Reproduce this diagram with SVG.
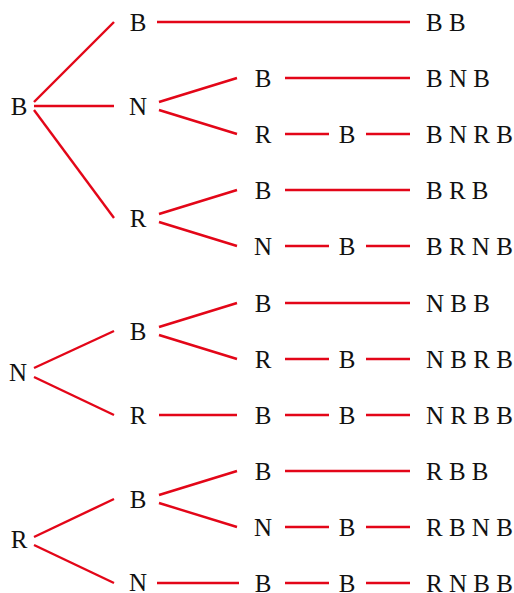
<svg xmlns="http://www.w3.org/2000/svg" width="514" height="593" viewBox="0 0 514 593">
<style>
text{font-family:"Liberation Serif","Times New Roman",serif;font-size:25px;fill:#111}
.n{text-anchor:middle}
.r{text-anchor:start}
#connectors line{stroke:#e30618;stroke-width:2.4;stroke-linecap:butt}
</style>
<rect width="514" height="593" fill="#fff"/>
<g id="connectors">
<line x1="34" y1="102" x2="114" y2="22"/>
<line x1="34" y1="106" x2="114" y2="106"/>
<line x1="34" y1="110" x2="114" y2="218"/>
<line x1="157" y1="22" x2="410" y2="22"/>
<line x1="159" y1="102" x2="237" y2="78"/>
<line x1="159" y1="110" x2="237" y2="134"/>
<line x1="285" y1="78" x2="410" y2="78"/>
<line x1="285" y1="134" x2="329" y2="134"/>
<line x1="366" y1="134" x2="410" y2="134"/>
<line x1="159" y1="214" x2="237" y2="190"/>
<line x1="159" y1="222" x2="237" y2="246"/>
<line x1="285" y1="190" x2="410" y2="190"/>
<line x1="285" y1="246" x2="329" y2="246"/>
<line x1="366" y1="246" x2="410" y2="246"/>
<line x1="34" y1="368" x2="114" y2="331"/>
<line x1="34" y1="377" x2="114" y2="415"/>
<line x1="159" y1="327" x2="237" y2="303"/>
<line x1="159" y1="335" x2="237" y2="359"/>
<line x1="159" y1="415" x2="237" y2="415"/>
<line x1="285" y1="303" x2="410" y2="303"/>
<line x1="285" y1="359" x2="329" y2="359"/>
<line x1="366" y1="359" x2="410" y2="359"/>
<line x1="285" y1="415" x2="329" y2="415"/>
<line x1="366" y1="415" x2="410" y2="415"/>
<line x1="34" y1="537" x2="114" y2="499"/>
<line x1="34" y1="545" x2="114" y2="583"/>
<line x1="159" y1="495" x2="237" y2="471"/>
<line x1="159" y1="503" x2="237" y2="527"/>
<line x1="157" y1="583" x2="239" y2="583"/>
<line x1="285" y1="471" x2="410" y2="471"/>
<line x1="285" y1="527" x2="329" y2="527"/>
<line x1="366" y1="527" x2="410" y2="527"/>
<line x1="285" y1="583" x2="329" y2="583"/>
<line x1="366" y1="583" x2="410" y2="583"/>
</g>
<g id="root-B"><text class="n" x="19" y="115">B</text></g>
<g id="B-B"><text class="n" x="138" y="31">B</text></g>
<g id="B-N"><text class="n" x="138" y="115">N</text></g>
<g id="B-R"><text class="n" x="138" y="227">R</text></g>
<g id="B-N-B"><text class="n" x="263" y="87">B</text></g>
<g id="B-N-R"><text class="n" x="263" y="143">R</text></g>
<g id="B-N-R-B"><text class="n" x="347" y="143">B</text></g>
<g id="B-R-B"><text class="n" x="263" y="199">B</text></g>
<g id="B-R-N"><text class="n" x="263" y="255">N</text></g>
<g id="B-R-N-B"><text class="n" x="347" y="255">B</text></g>
<g id="res-BB"><text class="r" x="426" y="31">B B</text></g>
<g id="res-BNB"><text class="r" x="426" y="87">B N B</text></g>
<g id="res-BNRB"><text class="r" x="426" y="143">B N R B</text></g>
<g id="res-BRB"><text class="r" x="426" y="199">B R B</text></g>
<g id="res-BRNB"><text class="r" x="426" y="255">B R N B</text></g>
<g id="root-N"><text class="n" x="18" y="381">N</text></g>
<g id="N-B"><text class="n" x="138" y="340">B</text></g>
<g id="N-R"><text class="n" x="138" y="424">R</text></g>
<g id="N-B-B"><text class="n" x="263" y="312">B</text></g>
<g id="N-B-R"><text class="n" x="263" y="368">R</text></g>
<g id="N-B-R-B"><text class="n" x="347" y="368">B</text></g>
<g id="N-R-B"><text class="n" x="263" y="424">B</text></g>
<g id="N-R-B-B"><text class="n" x="347" y="424">B</text></g>
<g id="res-NBB"><text class="r" x="426" y="312">N B B</text></g>
<g id="res-NBRB"><text class="r" x="426" y="368">N B R B</text></g>
<g id="res-NRBB"><text class="r" x="426" y="424">N R B B</text></g>
<g id="root-R"><text class="n" x="19" y="548">R</text></g>
<g id="R-B"><text class="n" x="138" y="508">B</text></g>
<g id="R-N"><text class="n" x="138" y="591">N</text></g>
<g id="R-B-B"><text class="n" x="263" y="480">B</text></g>
<g id="R-B-N"><text class="n" x="263" y="536">N</text></g>
<g id="R-B-N-B"><text class="n" x="347" y="536">B</text></g>
<g id="R-N-B"><text class="n" x="263" y="592">B</text></g>
<g id="R-N-B-B"><text class="n" x="347" y="592">B</text></g>
<g id="res-RBB"><text class="r" x="426" y="480">R B B</text></g>
<g id="res-RBNB"><text class="r" x="426" y="536">R B N B</text></g>
<g id="res-RNBB"><text class="r" x="426" y="592">R N B B</text></g>
</svg>
